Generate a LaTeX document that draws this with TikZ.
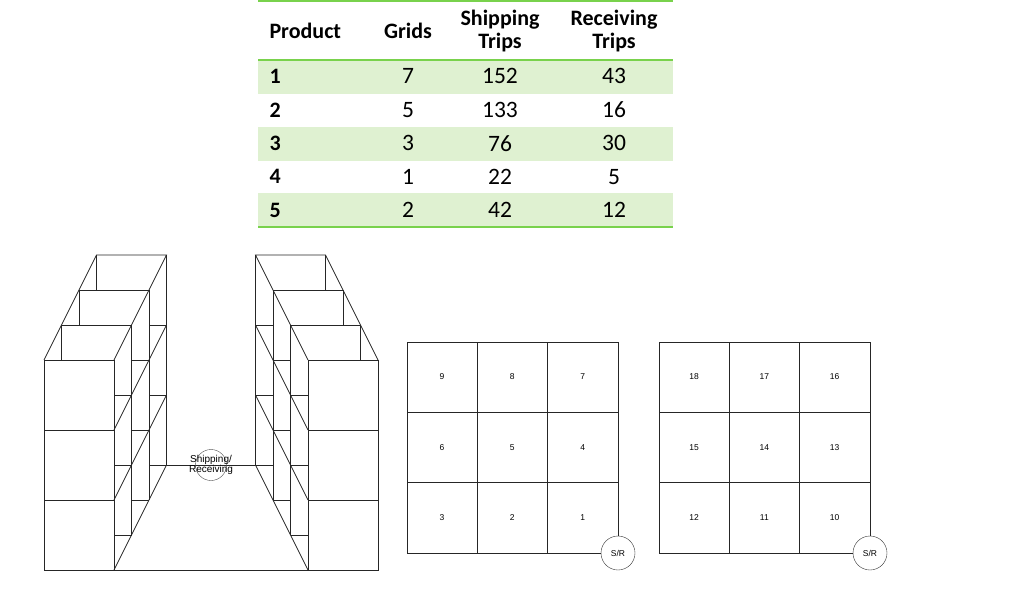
\documentclass[tikz,border=0pt]{standalone}
\usepackage{fontspec}
\setmainfont{Liberation Sans}
\newfontfamily\calib{Carlito}
\begin{document}
\begin{tikzpicture}[x=1pt,y=-1pt,
  ln/.style={draw=black!85,line width=0.8pt},
  cell/.style={font=\fontsize{8.5}{9}\selectfont},
  tb/.style={font=\calib\fontsize{23.5}{25}\selectfont},
  tbh/.style={font=\calib\bfseries\fontsize{22}{23}\selectfont,align=center}]
\useasboundingbox (0,0) rectangle (1024,589);
% ---------- table
\foreach \y in {60,127,193}{\fill[green!40!olive!18] (258,\y) rectangle (673,\y+33.5);}
\draw[green!50!olive!70,line width=1.5pt] (258,1)--(673,1);
\draw[green!50!olive!70,line width=1.5pt] (258,60)--(673,60);
\draw[green!50!olive!70,line width=1.5pt] (258,227)--(673,227);
\node[tbh,anchor=west] (hp) at (266,31) {Product};
\node[tbh] (hg) at (408,31) {Grids};
\node[tbh] (hs) at (500,31) {Shipping\\Trips};
\node[tbh] (hr) at (614,31) {Receiving\\Trips};
\foreach \p/\g/\s/\r [count=\i] in {1/7/152/43,2/5/133/16,3/3/76/30,4/1/22/5,5/2/42/12}{
  \node[tb,font=\calib\bfseries\fontsize{22}{23}\selectfont,anchor=west] (p\i) at (266,43+33.4*\i) {\p};
  \node[tb] (g\i) at (408,43+33.4*\i) {\g};
  \node[tb] (s\i) at (500,43+33.4*\i) {\s};
  \node[tb] (r\i) at (614,43+33.4*\i) {\r};
}
% ---------- racks
\foreach \sx/\sh in {1/0,-1/422}{
\begin{scope}[x=\sx pt,xshift=\sh pt]
\draw[ln] (44,360) rectangle (114,570);
\draw[ln] (44,430)--(114,430) (44,500)--(114,500);
\draw[ln] (44,360)--(96.5,255)--(166.5,255)--(114,360);
\draw[ln] (166.5,255)--(166.5,465)--(114,570);
\draw[ln] (114,430)--(166.5,325) (114,500)--(166.5,395);
\draw[ln] (131.5,325)--(131.5,535) (149,290)--(149,500);
\draw[ln] (61.5,360)--(61.5,325)--(131.5,325) (79,325)--(79,290)--(149,290) (96.5,255)--(96.5,290);
\foreach \k in {1,2,3}{\foreach \j in {1,2,3}{
  \draw[ln] ({114+17.5*(\k-1)},{360+70*\j-35*\k})--({114+17.5*\k},{360+70*\j-35*\k});}}
\end{scope}}
\draw[ln] (166.5,465)--(255.5,465);
\draw[ln] (44,570)--(378,570);
\node[draw=black!70,circle,minimum size=31pt,inner sep=0] (sr0) at (211,465) {};
\node[align=center,font=\fontsize{10}{10}\selectfont] (srt) at (211,465) {Shipping/\\Receiving};
% ---------- grids
\foreach \gx/\base in {407/0,659/9}{
  \foreach \i in {0,1,2,3}{
    \draw[ln] ({\gx+70.33*\i},342)--({\gx+70.33*\i},553);
    \draw[ln] (\gx,{342+70.33*\i})--({\gx+211},{342+70.33*\i});}
  \foreach \r in {0,1,2}{\foreach \c in {0,1,2}{
    \pgfmathtruncatemacro{\n}{\base+9-3*\r-\c}
    \node[cell] (c\base-\n) at ({\gx+35+70.33*\c},{377+70.33*\r}) {\n};}}
  \node[draw=black!80,circle,fill=white,minimum size=34pt,inner sep=0,cell] (sr\base) at (\gx+211,553) {S/R};
}
\end{tikzpicture}
\end{document}
